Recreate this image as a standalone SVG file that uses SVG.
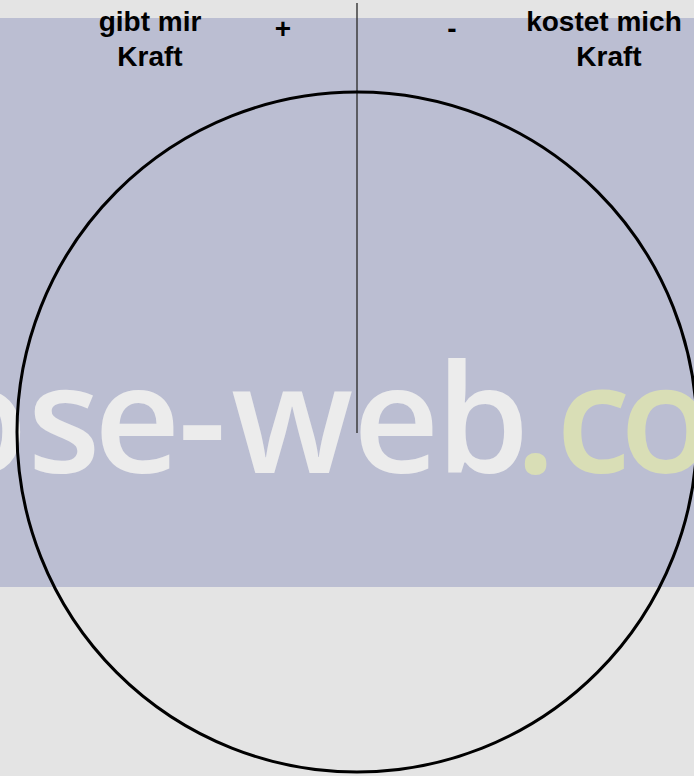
<svg xmlns="http://www.w3.org/2000/svg" width="694" height="776" viewBox="0 0 694 776">
  <style>
    .lbl { font-family: "Liberation Sans", Arial, sans-serif; font-weight: bold; font-size: 28px; fill: #000; text-anchor: middle; }
    .wm { font-family: "Open Sans", "DejaVu Sans", sans-serif; font-size: 150px; font-weight: 600; }
  </style>
  <rect id="bg" x="0" y="0" width="694" height="776" fill="#e4e4e4"/>
  <rect id="band" x="0" y="18" width="694" height="569" fill="#bbbed2"/>
  <g id="watermark" class="wm">
    <text y="473" fill="#ececec" x="-64 27.5 94 178 231 353 436">ose-web</text>
    <text y="473" fill="#d9deb6" x="515 556 620">.co</text>
  </g>
  <g id="connectors">
    <line x1="357" y1="3" x2="357" y2="433" stroke="#333" stroke-width="1.4"/>
  </g>
  <g id="circle">
    <circle cx="357" cy="432" r="340" fill="none" stroke="#000" stroke-width="3"/>
  </g>
  <g id="label-plus-text">
    <text class="lbl" x="150" y="31">gibt mir</text>
    <text class="lbl" x="150" y="66">Kraft</text>
  </g>
  <g id="label-plus">
    <text class="lbl" x="283" y="38">+</text>
  </g>
  <g id="label-minus">
    <text class="lbl" x="452" y="38">-</text>
  </g>
  <g id="label-minus-text">
    <text class="lbl" x="604" y="31">kostet mich</text>
    <text class="lbl" x="609" y="66">Kraft</text>
  </g>
</svg>
